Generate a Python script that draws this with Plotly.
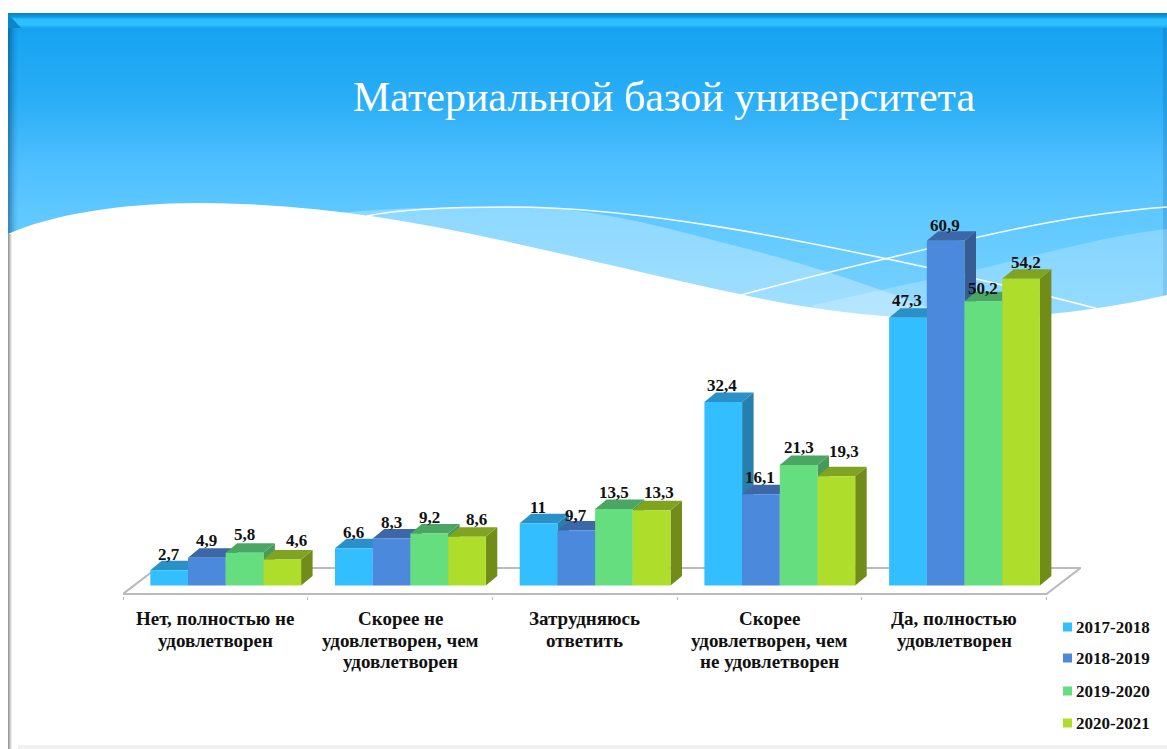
import plotly.graph_objects as go

# ---------- data ----------
categories = ["Нет, полностью не<br>удовлетворен",
              "Скорее не<br>удовлетворен, чем<br>удовлетворен",
              "Затрудняюсь<br>ответить",
              "Скорее<br>удовлетворен, чем<br>не удовлетворен",
              "Да, полностью<br>удовлетворен"]
series_names = ["2017-2018", "2018-2019", "2019-2020", "2020-2021"]
values_2017 = [2.7, 6.6, 11, 32.4, 47.3]
values_2018 = [4.9, 8.3, 9.7, 16.1, 60.9]
values_2019 = [5.8, 9.2, 13.5, 21.3, 50.2]
values_2020 = [4.6, 8.6, 13.3, 19.3, 54.2]
title_text = "Материальной базой университета"

series = [values_2017, values_2018, values_2019, values_2020]

# ---------- styles ----------
front_colors = ["#33bfff", "#4b89dc", "#65de80", "#aedd2b"]
top_colors = ["#2a90c8", "#3c68a8", "#4ba663", "#80a322"]
side_colors = ["#2580ad", "#375c94", "#459a5c", "#728c1a"]
SERIF = "Liberation Serif"
TXT = "#111111"
W, H = 1167, 749

# pixel frame of the chart
PL, PR, PT, PB = 123, 1081, 205, 596
CAT_PX = 184.7
Y0_PX = 585.5
UNIT_PX = 5.66
x_range = [-0.5, -0.5 + (PR - PL) / CAT_PX]
y_range = [(Y0_PX - PB) / UNIT_PX, (Y0_PX - PT) / UNIT_PX]
bar_w = 37.7 / CAT_PX
bar_start = -0.5 + 27.3 / CAT_PX
depth_x, depth_y = 11.5 / CAT_PX, 9.5 / UNIT_PX
floor_x, floor_y = 34 / CAT_PX, 26 / UNIT_PX
floor_front = (Y0_PX - 594) / UNIT_PX

# hand-placed label nudges in the source, per series then category (px)
label_dx = [[0, 0, -1, -1, -1], [0, 0, 0, -1, -1], [0, 0, 0, 0, 0], [14, 10, 7, 8, 5]]
label_dy = [[16, 16, 16, 17, 17], [17, 16, 15, 17, 15], [18, 16, 17, 17, 13], [19, 17, 18, 25, 16]]
tick_line_y = [618, 640, 661]


def px(x):
    return x / W


def py(y):
    return 1 - y / H


def P(cmd, *xy):
    out = []
    for i in range(0, len(xy), 2):
        out.append(f"{px(xy[i]):.5f},{py(xy[i + 1]):.5f}")
    return cmd + " ".join(out)


shapes = []


def rect(x0, y0, x1, y1, color):
    shapes.append(dict(type="rect", xref="paper", yref="paper", layer="below",
                       x0=px(x0), x1=px(x1), y0=py(y0), y1=py(y1),
                       fillcolor=color, line_width=0))


def ppath(path, fill=None, line=None, lw=0):
    shapes.append(dict(type="path", xref="paper", yref="paper", layer="below", path=path,
                       fillcolor=fill or "rgba(0,0,0,0)",
                       line=dict(color=line or "rgba(0,0,0,0)", width=lw)))


def lerp(stops, y):
    for (y0, c0), (y1, c1) in zip(stops, stops[1:]):
        if y <= y1:
            t = (y - y0) / (y1 - y0)
            return "rgb(%d,%d,%d)" % tuple(round(a + (b - a) * t) for a, b in zip(c0, c1))
    return "rgb(%d,%d,%d)" % stops[-1][1]


# sky gradient
sky = [(28, (22, 163, 241)), (100, (42, 174, 246)), (160, (77, 190, 254)),
       (210, (94, 200, 255)), (340, (128, 212, 255))]
for y in range(28, 340, 2):
    rect(8, y, W, y + 2.2, lerp(sky, y))

# top bevel
top_bevel = [(13, (8, 132, 200)), (16, (14, 150, 222)), (19, (44, 190, 255)),
             (24, (46, 192, 255)), (28, (22, 163, 241))]
for y in range(13, 28):
    rect(8, y, W, y + 1.2, lerp(top_bevel, y))

# left and right bevels on the blue part
for x0, alpha in [(8, 0.42), (10, 0.30), (12, 0.18), (14, 0.09), (16, 0.04)]:
    rect(x0, 28, x0 + 2, 260, f"rgba(0,50,100,{alpha})")
ppath("M" + P("", 8, 14) + " L" + P("", 21, 28) + " L" + P("", 8, 28) + " Z", fill="#0c86c9")
rect(1163, 28, W, 300, "rgba(0,60,120,0.16)")

# translucent bands
ppath("M" + P("", 340, 213) + " C" + P("", 400, 207, 460, 207, 520, 207)
      + " C" + P("", 600, 207, 680, 232, 740, 247)
      + " C" + P("", 800, 262, 870, 285, 930, 308)
      + " L" + P("", 1000, 330) + " L" + P("", 340, 330) + " Z",
      fill="rgba(255,255,255,0.30)")
ppath("M" + P("", 813, 305) + " C" + P("", 880, 290, 950, 275, 975, 270)
      + " C" + P("", 1050, 252, 1110, 235, W, 229)
      + " L" + P("", W, 330) + " L" + P("", 813, 330) + " Z",
      fill="rgba(255,255,255,0.22)")

# white lines
ppath("M" + P("", 367, 216) + " C" + P("", 400, 209, 450, 207, 510, 207)
      + " C" + P("", 640, 207, 800, 240, 925, 267)
      + " C" + P("", 990, 282, 1050, 296, 1102, 310),
      line="rgba(255,255,255,0.95)", lw=1.6)
ppath("M" + P("", 741, 295) + " C" + P("", 790, 282, 840, 269, 889, 258)
      + " C" + P("", 980, 236, 1070, 214, W, 207),
      line="rgba(255,255,255,0.95)", lw=1.6)

# white wave
ppath("M" + P("", 8, 234) + " C" + P("", 50, 215, 120, 203, 199, 203)
      + " C" + P("", 300, 203, 400, 218, 500, 240)
      + " C" + P("", 600, 262, 680, 282, 740, 294)
      + " C" + P("", 800, 308, 880, 319, 950, 319)
      + " C" + P("", 1010, 319, 1090, 313, W, 295)
      + " L" + P("", W, 745) + " L" + P("", 8, 745) + " Z", fill="#ffffff")

# slide edges on the white part
for x0, c in [(8, "#9a9a9a"), (9, "#b4b4b4"), (10, "#d2d2d2"), (11, "#eeeeee")]:
    rect(x0, 234, x0 + 1, H, c)
rect(18, 745, W, H, "#f1f1f1")

# floor outline, in data coordinates
floor_c = "#bbbbbb"
xl, xr = -0.5, 4.5
shapes.append(dict(type="path", xref="x", yref="y", layer="below",
                   path=f"M {xl},{floor_front} L {xl + floor_x},{floor_front + floor_y} "
                        f"L {xr + floor_x},{floor_front + floor_y} L {xr},{floor_front} Z",
                   fillcolor="#ffffff", line=dict(color=floor_c, width=2.2)))

# 3D top and side faces, in data coordinates
for j, vals in enumerate(series):
    for i, v in enumerate(vals):
        a = i + bar_start + j * bar_w
        b = a + bar_w
        shapes.append(dict(type="path", xref="x", yref="y", layer="below",
                           path=f"M {b},{v} L {b + depth_x},{v + depth_y} "
                                f"L {b + depth_x},{depth_y} L {b},0 Z",
                           fillcolor=side_colors[j], line_width=0))
        shapes.append(dict(type="path", xref="x", yref="y", layer="below",
                           path=f"M {a},{v} L {a + depth_x},{v + depth_y} "
                                f"L {b + depth_x},{v + depth_y} L {b},{v} Z",
                           fillcolor=top_colors[j], line_width=0))

fig = go.Figure()
for j, (name, vals) in enumerate(zip(series_names, series)):
    fig.add_trace(go.Bar(x=categories, y=vals, name=name, width=bar_w,
                         offset=bar_start + j * bar_w,
                         marker=dict(color=front_colors[j], line_width=0),
                         showlegend=False))

annotations = [dict(text=title_text, xref="paper", yref="paper", x=px(664), y=py(97),
                    xanchor="center", yanchor="middle", showarrow=False,
                    font=dict(family=SERIF, size=42, color="#ffffff"))]

# data labels
for j, vals in enumerate(series):
    for i, v in enumerate(vals):
        c = i + bar_start + (j + 0.5) * bar_w
        annotations.append(dict(text=str(v).replace(".", ","), x=c, y=v, xref="x", yref="y",
                                xanchor="center", yanchor="middle", showarrow=False,
                                xshift=label_dx[j][i], yshift=label_dy[j][i],
                                font=dict(family=SERIF, size=17, color=TXT, weight="bold")))

# category labels, line by line (tighter leading than plotly's tick labels allow)
for i, cat in enumerate(categories):
    for k, line in enumerate(cat.split("<br>")):
        annotations.append(dict(text=line, x=i, xref="x", y=py(tick_line_y[k]), yref="paper",
                                xanchor="center", yanchor="middle", showarrow=False,
                                font=dict(family=SERIF, size=19, color=TXT, weight="bold")))

# legend: series names with colour keys
legend_y = [627, 658, 691, 723]
for j, name in enumerate(series_names):
    rect(1063, legend_y[j] - 4.5, 1072, legend_y[j] + 4.5, front_colors[j])
    annotations.append(dict(text=name, xref="paper", yref="paper", x=px(1073.5), y=py(legend_y[j]),
                            xanchor="left", yanchor="middle", showarrow=False,
                            font=dict(family=SERIF, size=17, color=TXT, weight="bold")))

fig.update_layout(
    width=W, height=H, margin=dict(l=0, r=0, t=0, b=0), autosize=False,
    paper_bgcolor="#ffffff", plot_bgcolor="rgba(0,0,0,0)",
    barmode="overlay", shapes=shapes, annotations=annotations, showlegend=False,
    xaxis=dict(domain=[px(PL), px(PR)], type="category", range=x_range,
               categoryorder="array", categoryarray=categories,
               tickson="boundaries", ticks="outside", ticklen=3, tickcolor=floor_c, tickwidth=1.2,
               showgrid=False, zeroline=False, showline=False, showticklabels=False),
    yaxis=dict(domain=[py(PB), py(PT)], range=y_range, visible=False,
               showgrid=False, zeroline=False),
)

fig.write_html("out.html", config={"displayModeBar": False},
               post_script="document.body.style.margin='0';document.body.style.overflow='hidden';")
